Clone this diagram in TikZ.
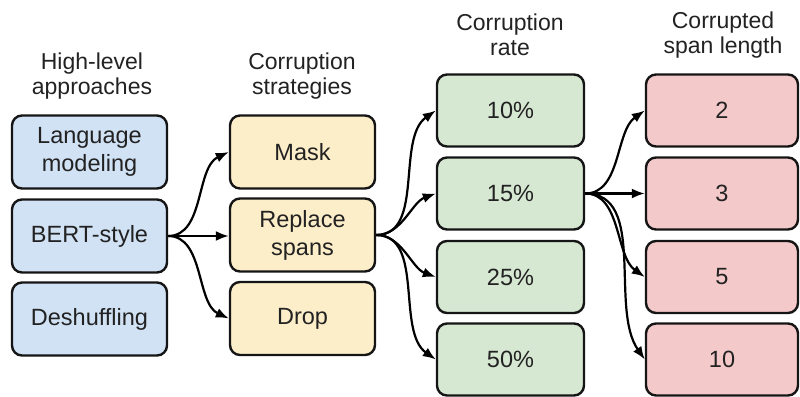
\documentclass[tikz,border=0pt]{standalone}
\usepackage{fontspec}
\setmainfont{Liberation Sans}
\usetikzlibrary{arrows.meta}
\definecolor{cblue}{HTML}{D1E2F4}
\definecolor{cyellow}{HTML}{FDEECA}
\definecolor{cgreen}{HTML}{D6E7D2}
\definecolor{cred}{HTML}{F4C9CA}
\definecolor{cline}{HTML}{151515}
\definecolor{ctext}{HTML}{222222}
\tikzset{
  box/.style={draw=cline, line width=2.4pt, rounded corners=10pt, align=center,
    font=\fontsize{23.5}{28}\selectfont, text=ctext, inner sep=0pt},
  bluebox/.style={box, fill=cblue, minimum width=155pt, minimum height=73pt},
  yellowbox/.style={box, fill=cyellow, minimum width=145pt, minimum height=73pt},
  greenbox/.style={box, fill=cgreen, minimum width=147pt, minimum height=72pt},
  redbox/.style={box, fill=cred, minimum width=152pt, minimum height=72pt},
  header/.style={align=center, font=\fontsize{23}{25.5}\selectfont, text=ctext, inner sep=0pt},
  conn/.style={line width=2.2pt, draw=black, -{Latex[length=13pt,width=10pt]}}
}
\begin{document}
\begin{tikzpicture}[x=1pt,y=-1pt]
\useasboundingbox (0,0) rectangle (800,396);
% headers
\node[header] (h1) at (92,76) {High-level\\approaches};
\node[header] (h2) at (302,76) {Corruption\\strategies};
\node[header] (h3) at (510,35) {Corruption\\rate};
\node[header] (h4) at (723,35) {Corrupted\\span length};
% column 1
\node[bluebox] (lm) at (89.5,152) {Language\\modeling};
\node[bluebox] (bert) at (89.5,236) {BERT-style};
\node[bluebox] (desh) at (89.5,319) {Deshuffling};
% column 2
\node[yellowbox] (mask) at (302.5,152) {Mask};
\node[yellowbox] (repl) at (302.5,235) {Replace\\spans};
\node[yellowbox] (drop) at (302.5,318.5) {Drop};
% column 3
\node[greenbox] (r10) at (510.5,110.5) {10\%};
\node[greenbox] (r15) at (510.5,193.5) {15\%};
\node[greenbox] (r25) at (510.5,277) {25\%};
\node[greenbox] (r50) at (510.5,359.5) {50\%};
% column 4
\node[redbox] (s2) at (722,110.5) {2};
\node[redbox] (s3) at (722,193.5) {3};
\node[redbox] (s5) at (722,277) {5};
\node[redbox] (s10) at (722,359.5) {10};
% connectors
\draw[conn] (bert.east) to[out=0,in=205,looseness=0.9] (mask.west);
\draw[conn] (bert.east) -- (repl.west |- bert.east);
\draw[conn] (bert.east) to[out=0,in=155,looseness=0.9] (drop.west);
\draw[conn] (repl.east) to[out=0,in=215,looseness=0.9] (r10.west);
\draw[conn] (repl.east) to[out=0,in=200,looseness=0.9] (r15.west);
\draw[conn] (repl.east) to[out=0,in=160,looseness=0.9] (r25.west);
\draw[conn] (repl.east) to[out=0,in=145,looseness=0.9] (r50.west);
\draw[conn] (r15.east) to[out=0,in=215,looseness=0.9] (s2.west);
\draw[conn] (r15.east) -- (s3.west);
\draw[conn] (r15.east) to[out=0,in=145,looseness=0.9] (s5.west);
\draw[conn] (r15.east) to[out=0,in=125,looseness=0.9] (s10.west);
\end{tikzpicture}
\end{document}
